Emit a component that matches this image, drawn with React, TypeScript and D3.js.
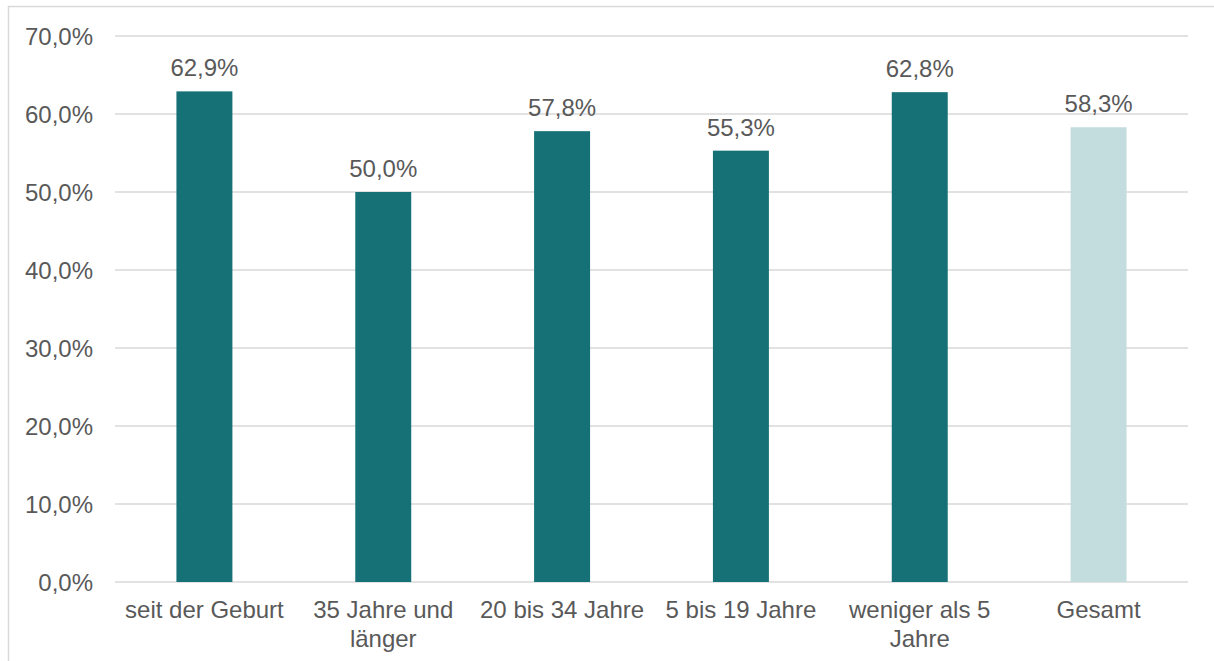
import * as d3 from 'd3';

const categories = ['seit der Geburt', '35 Jahre und länger', '20 bis 34 Jahre', '5 bis 19 Jahre', 'weniger als 5 Jahre', 'Gesamt'];
const labelLines = [['seit der Geburt'], ['35 Jahre und', 'länger'], ['20 bis 34 Jahre'], ['5 bis 19 Jahre'], ['weniger als 5', 'Jahre'], ['Gesamt']];
const values = [62.9, 50.0, 57.8, 55.3, 62.8, 58.3];
const ticks = [0, 10, 20, 30, 40, 50, 60, 70];

const fmt = (v: number) => v.toFixed(1).replace('.', ',') + '%';

const App = () => {
  const width = 1214;
  const height = 661;
  const margin = { top: 36, right: 26, bottom: 79, left: 115 };
  const innerWidth = width - margin.left - margin.right;
  const innerHeight = height - margin.top - margin.bottom;

  const xScale = d3.scaleBand()
    .domain(categories)
    .range([0, innerWidth])
    .paddingInner(0.687)
    .paddingOuter(0.3435);

  const yScale = d3.scaleLinear()
    .domain([0, 70])
    .range([innerHeight, 0]);

  const font = 'Liberation Sans, Arial, sans-serif';
  const textColor = '#595959';
  const fs = 24;

  return (
    <svg width={width} height={height} style={{ position: 'absolute', left: 0, top: 0 }}>
      <rect x={8.5} y={6.5} width={1220} height={700} fill="#fff" stroke="#d9d9d9" strokeWidth={1.5} />
      <g transform={`translate(${margin.left}, ${margin.top})`} fontFamily={font}>
        {ticks.map((t) => (
          <g key={t} transform={`translate(0,${yScale(t)})`}>
            <line x1={0} x2={innerWidth} stroke="#d9d9d9" strokeWidth={1.5} />
            <text x={-22} y={8.5} textAnchor="end" fontSize={fs} fill={textColor}>{fmt(t)}</text>
          </g>
        ))}
        {categories.map((c, i) => (
          <rect
            key={c}
            x={xScale(c)}
            y={yScale(values[i])}
            width={xScale.bandwidth()}
            height={innerHeight - yScale(values[i])}
            fill={c === 'Gesamt' ? '#c3dcde' : '#167177'}
          />
        ))}
        {categories.map((c, i) => (
          <text
            key={c}
            x={xScale(c)! + xScale.bandwidth() / 2}
            y={yScale(values[i]) - 15}
            textAnchor="middle"
            fontSize={fs}
            fill={textColor}
          >{fmt(values[i])}</text>
        ))}
        {categories.map((c, i) => (
          <text
            key={c}
            x={xScale(c)! + xScale.bandwidth() / 2}
            y={innerHeight + 36}
            textAnchor="middle"
            fontSize={fs}
            fill={textColor}
          >
            {labelLines[i].map((l, j) => (
              <tspan key={j} x={xScale(c)! + xScale.bandwidth() / 2} dy={j === 0 ? 0 : 29}>{l}</tspan>
            ))}
          </text>
        ))}
      </g>
    </svg>
  );
};

export default App;
